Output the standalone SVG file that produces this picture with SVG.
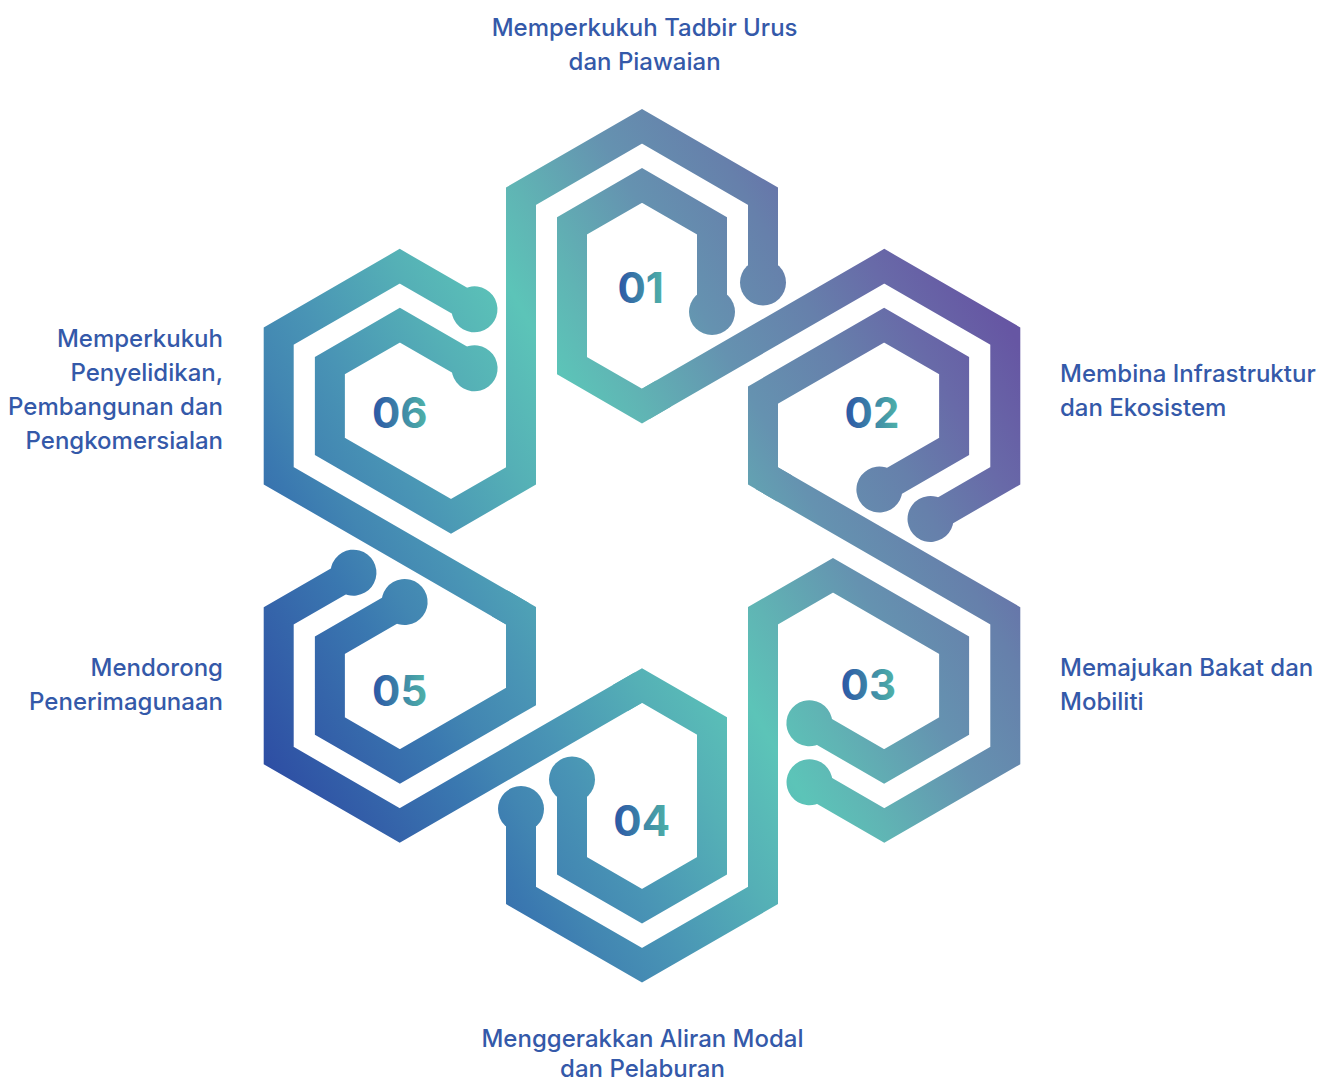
<svg xmlns="http://www.w3.org/2000/svg" xmlns:xlink="http://www.w3.org/1999/xlink" width="1333" height="1081" viewBox="0 0 1333 1081">
<style>
.ring{fill:none;stroke-width:30;stroke-linejoin:miter;stroke-linecap:butt}
.dot{stroke:none}
.lbl{font-family:Inter,"Noto Sans","Liberation Sans",sans-serif;font-size:24px;font-weight:500;fill:#3459a9}
.num{font-family:Inter,"Noto Sans","Liberation Sans",sans-serif;font-size:42px;font-weight:700;fill:url(#numg);text-anchor:middle}
</style>
<defs>
<linearGradient id="g0" gradientUnits="userSpaceOnUse" x1="267" y1="762.5" x2="1011.8" y2="332.5">
<stop offset="0" stop-color="#2e4fa4"/>
<stop offset="0.097" stop-color="#3565aa"/>
<stop offset="0.178" stop-color="#3a78b0"/>
<stop offset="0.23" stop-color="#4286b2"/>
<stop offset="0.3" stop-color="#4994b5"/>
<stop offset="0.42" stop-color="#55b0b6"/>
<stop offset="0.52" stop-color="#5cc4b8"/>
<stop offset="0.585" stop-color="#60b4b4"/>
<stop offset="0.7" stop-color="#6592b0"/>
<stop offset="0.81" stop-color="#6680ab"/>
<stop offset="0.9" stop-color="#686aa8"/>
<stop offset="1" stop-color="#6656a3"/>
</linearGradient>
<linearGradient id="g1" xlink:href="#g0" gradientTransform="rotate(-60 642 545.8)"/>
<linearGradient id="g2" xlink:href="#g0" gradientTransform="rotate(-120 642 545.8)"/>
<linearGradient id="g3" xlink:href="#g0" gradientTransform="rotate(-180 642 545.8)"/>
<linearGradient id="g4" xlink:href="#g0" gradientTransform="rotate(-240 642 545.8)"/>
<linearGradient id="g5" xlink:href="#g0" gradientTransform="rotate(-300 642 545.8)"/>
<linearGradient id="numg" x1="0" y1="0" x2="1" y2="0">
<stop offset="0" stop-color="#2b55a6"/>
<stop offset="1" stop-color="#4fb3a8"/>
</linearGradient>
<g id="outerRing">
<path class="ring" d="M521,475.94 L521,196.16 L642,126.3 L763,196.16 L763,282.5"/>
<circle class="dot" cx="763" cy="282.5" r="23"/>
</g>
<g id="innerRing">
<path class="ring" d="M712,312.1 L712,225.81 L642,185.4 L572,225.81 L572,365.67 L642,406.08 L663.65,393.58"/>
<circle class="dot" cx="712" cy="312.1" r="23"/>
</g>
</defs>
<rect width="1333" height="1081" fill="#ffffff"/>

<g id="hex-01">
<g transform="rotate(0 642 545.8)" style="stroke:url(#g0);fill:url(#g0)">
<use href="#outerRing"/><use href="#innerRing"/>
</g>
<text class="num" x="640.7" y="302.7">01</text>
<text class="lbl" text-anchor="middle"><tspan x="644.6" y="35.7">Memperkukuh Tadbir Urus</tspan><tspan x="644.6" y="70">dan Piawaian</tspan></text>
</g>

<g id="hex-02">
<g transform="rotate(60 642 545.8)" style="stroke:url(#g1);fill:url(#g1)">
<use href="#outerRing"/><use href="#innerRing"/>
</g>
<text class="num" x="872" y="428.3">02</text>
<text class="lbl"><tspan x="1060" y="381.7">Membina Infrastruktur</tspan><tspan x="1060" y="416">dan Ekosistem</tspan></text>
</g>

<g id="hex-03">
<g transform="rotate(120 642 545.8)" style="stroke:url(#g2);fill:url(#g2)">
<use href="#outerRing"/><use href="#innerRing"/>
</g>
<text class="num" x="868.3" y="700">03</text>
<text class="lbl"><tspan x="1060" y="675.7">Memajukan Bakat dan</tspan><tspan x="1060" y="710">Mobiliti</tspan></text>
</g>

<g id="hex-04">
<g transform="rotate(180 642 545.8)" style="stroke:url(#g3);fill:url(#g3)">
<use href="#outerRing"/><use href="#innerRing"/>
</g>
<text class="num" x="641.7" y="836">04</text>
<text class="lbl" text-anchor="middle"><tspan x="642.5" y="1046.7">Menggerakkan Aliran Modal</tspan><tspan x="642.5" y="1076.5">dan Pelaburan</tspan></text>
</g>

<g id="hex-05">
<g transform="rotate(240 642 545.8)" style="stroke:url(#g4);fill:url(#g4)">
<use href="#outerRing"/><use href="#innerRing"/>
</g>
<text class="num" x="399.7" y="705.7">05</text>
<text class="lbl" text-anchor="end"><tspan x="223" y="675.7">Mendorong</tspan><tspan x="223" y="710">Penerimagunaan</tspan></text>
</g>

<g id="hex-06">
<g transform="rotate(300 642 545.8)" style="stroke:url(#g5);fill:url(#g5)">
<use href="#outerRing"/><use href="#innerRing"/>
</g>
<text class="num" x="399.7" y="427.7">06</text>
<text class="lbl" text-anchor="end"><tspan x="223" y="346.7">Memperkukuh</tspan><tspan x="223" y="380.5">Penyelidikan,</tspan><tspan x="223" y="414.5">Pembangunan dan</tspan><tspan x="223" y="448.5">Pengkomersialan</tspan></text>
</g>
</svg>
